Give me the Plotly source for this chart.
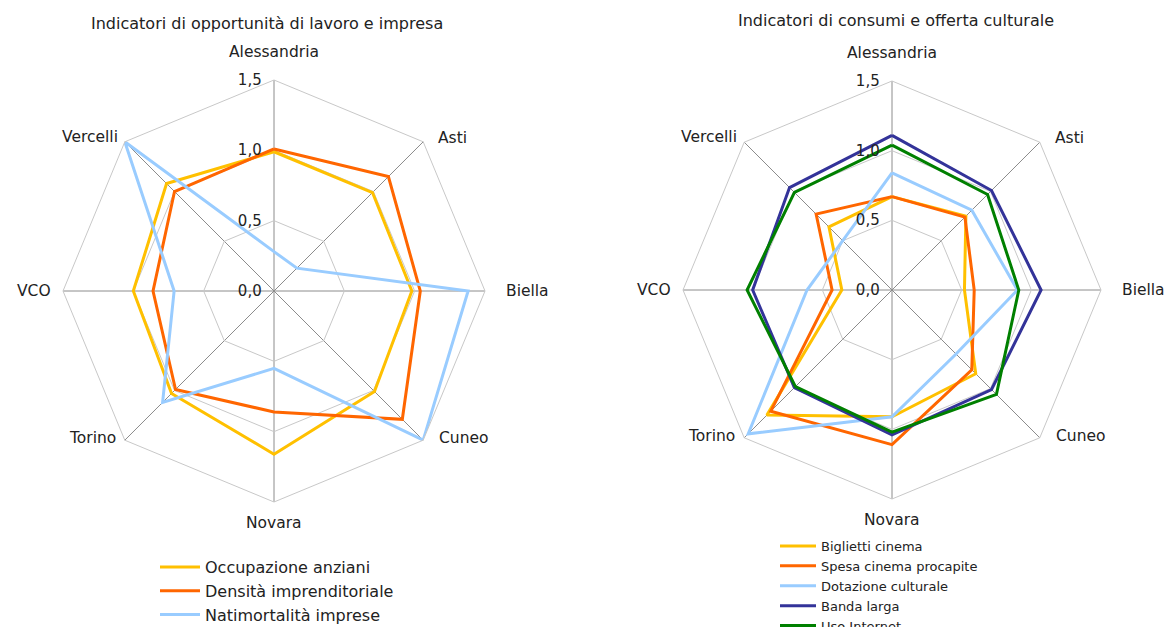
import math
import plotly.graph_objects as go

categories = ["Alessandria", "Asti", "Biella", "Cuneo", "Novara", "Torino", "VCO", "Vercelli"]

# Left chart: Indicatori di opportunità di lavoro e impresa
occupazione_anziani = [0.99, 0.99, 0.98, 1.01, 1.16, 1.03, 1.00, 1.08]
densita_imprenditoriale = [1.01, 1.15, 1.04, 1.29, 0.86, 0.99, 0.86, 1.00]
natimortalita_imprese = [0.28, 0.23, 1.38, 1.50, 0.55, 1.12, 0.71, 1.50]

# Right chart: Indicatori di consumi e offerta culturale
biglietti_cinema = [0.67, 0.75, 0.52, 0.85, 0.91, 1.27, 0.36, 0.64]
spesa_cinema = [0.67, 0.74, 0.59, 0.81, 1.11, 1.23, 0.43, 0.77]
dotazione_culturale = [0.84, 0.81, 0.90, 0.65, 0.91, 1.46, 0.61, 0.50]
banda_larga = [1.11, 1.01, 1.07, 1.01, 1.04, 0.99, 1.00, 1.04]
uso_internet = [1.04, 0.97, 0.91, 1.06, 1.02, 0.98, 1.04, 0.99]

radial_ticks = [0, 0.5, 1.0, 1.5]
radial_ticktext = ["0,0", "0,5", "1,0", "1,5"]

FONT = "DejaVu Sans"
TXT = "#222222"
YELLOW = "#FFC000"
ORANGE = "#FF6600"
LIGHTBLUE = "#99CCFF"
DARKBLUE = "#333399"
GREEN = "#008000"

# Category label placement (style): pixel offset from outer vertex and anchor
label_offset = [(0, -28), (13, -4), (19, 0), (14, -2), (0, 21), (-7, -2), (-10, 0), (-5, -5)]
label_anchor = ["center", "left", "left", "left", "center", "right", "right", "right"]

left_series = [
    ("Occupazione anziani", occupazione_anziani, YELLOW),
    ("Densità imprenditoriale", densita_imprenditoriale, ORANGE),
    ("Natimortalità imprese", natimortalita_imprese, LIGHTBLUE),
]
right_series = [
    ("Biglietti cinema", biglietti_cinema, YELLOW),
    ("Spesa cinema procapite", spesa_cinema, ORANGE),
    ("Dotazione culturale", dotazione_culturale, LIGHTBLUE),
    ("Banda larga", banda_larga, DARKBLUE),
    ("Uso Internet", uso_internet, GREEN),
]

fig = go.Figure()


def closed(vals):
    return list(vals) + [vals[0]]


for name, vals, col in left_series:
    fig.add_trace(go.Scatterpolar(
        r=closed(vals), theta=closed(categories), mode="lines", name=name,
        line=dict(color=col, width=3), subplot="polar", legend="legend",
        hoverinfo="skip"))

for name, vals, col in right_series:
    fig.add_trace(go.Scatterpolar(
        r=closed(vals), theta=closed(categories), mode="lines", name=name,
        line=dict(color=col, width=3), subplot="polar2", legend="legend2",
        hoverinfo="skip"))

W, H = 1167, 627
GEOM = {"polar": (274, 291, 211), "polar2": (892, 290, 209)}


def domain(cx, cy, R):
    return dict(x=[(cx - R) / W, (cx + R) / W],
                y=[(H - cy - R) / H, (H - cy + R) / H])


def polar_layout(cx, cy, R):
    return dict(
        domain=domain(cx, cy, R),
        gridshape="linear",
        bgcolor="white",
        radialaxis=dict(range=[0, 1.5], tickvals=radial_ticks,
                        ticktext=[t + "\u00a0\u00a0" for t in radial_ticktext],
                        angle=90, tickangle=90, side="counterclockwise",
                        showline=False, ticks="", gridcolor="#C8C8C8", gridwidth=1,
                        tickfont=dict(family=FONT, size=15, color=TXT)),
        angularaxis=dict(categoryorder="array", categoryarray=categories,
                         rotation=90, direction="clockwise", ticks="",
                         showticklabels=False,
                         showline=True, linecolor="#C8C8C8", linewidth=1,
                         gridcolor="#8C8C8C", gridwidth=1),
    )


annotations = [
    dict(text="Indicatori di opportunità di lavoro e impresa", x=267 / W, y=(H - 23) / H,
         xref="paper", yref="paper", showarrow=False, xanchor="center", yanchor="middle",
         font=dict(family=FONT, size=16, color=TXT)),
    dict(text="Indicatori di consumi e offerta culturale", x=896 / W, y=(H - 20) / H,
         xref="paper", yref="paper", showarrow=False, xanchor="center", yanchor="middle",
         font=dict(family=FONT, size=16, color=TXT)),
]

# category labels placed just outside the outer ring of each radar
n = len(categories)
for sp, (cx, cy, R) in GEOM.items():
    for i, cat in enumerate(categories):
        ang = 2 * math.pi * i / n
        vx = cx + R * math.sin(ang)
        vy = cy - R * math.cos(ang)
        dx, dy = label_offset[i]
        annotations.append(dict(
            text=cat, x=vx / W, y=(H - vy) / H, xref="paper", yref="paper",
            xshift=dx, yshift=-dy, showarrow=False,
            xanchor=label_anchor[i], yanchor="middle",
            font=dict(family=FONT, size=15.5, color=TXT)))

fig.update_layout(
    width=W, height=H,
    margin=dict(l=0, r=0, t=0, b=0, autoexpand=False),
    paper_bgcolor="white",
    font=dict(family=FONT, size=14, color=TXT),
    polar=polar_layout(*GEOM["polar"]),
    polar2=polar_layout(*GEOM["polar2"]),
    legend=dict(x=155 / W, y=(H - 550) / H, xanchor="left", yanchor="top",
                font=dict(family=FONT, size=16, color=TXT),
                itemwidth=40, bgcolor="rgba(0,0,0,0)", tracegroupgap=0),
    legend2=dict(x=775 / W, y=(H - 531) / H, xanchor="left", yanchor="top",
                 font=dict(family=FONT, size=13, color=TXT),
                 itemwidth=36, bgcolor="rgba(0,0,0,0)", tracegroupgap=0),
    annotations=annotations,
)

fig.write_html("out.html", config={"displayModeBar": False},
               post_script="document.body.style.margin='0px';")
